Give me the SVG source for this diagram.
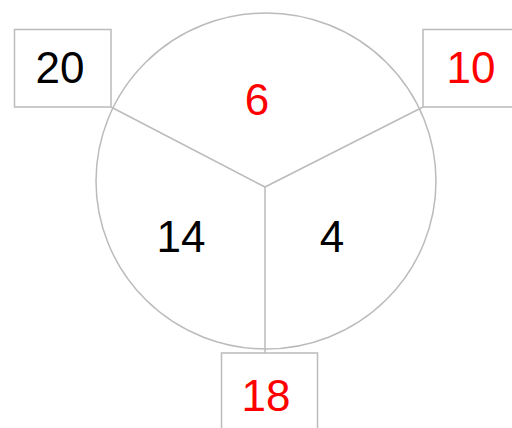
<svg xmlns="http://www.w3.org/2000/svg" width="512" height="428" viewBox="0 0 512 428">
<style>
.ln{fill:none;stroke:#bbbbbb;stroke-width:1.5}
.bx{fill:#ffffff;stroke:#bbbbbb;stroke-width:1.5}
.t{font-family:"Liberation Sans",Arial,sans-serif;font-size:44px;text-anchor:middle}
.r{fill:#ff0000}
.k{fill:#000000}
</style>
<rect width="512" height="428" fill="#ffffff"/>
<g id="circle">
<ellipse class="ln" cx="266" cy="181" rx="170" ry="168"/>
</g>
<g id="connectors">
<line class="ln" x1="265" y1="187" x2="111" y2="107"/>
<line class="ln" x1="265" y1="187" x2="423" y2="107"/>
<line class="ln" x1="265" y1="187" x2="265" y2="353"/>
</g>
<g id="sector-top"><text class="t r" x="257" y="115">6</text></g>
<g id="sector-left"><text class="t k" x="181" y="252">14</text></g>
<g id="sector-right"><text class="t k" x="332" y="252">4</text></g>
<g id="box-20">
<rect class="bx" x="14.5" y="29.5" width="96.5" height="77.5"/>
<text class="t k" x="60" y="83">20</text>
</g>
<g id="box-10">
<rect class="bx" x="423" y="29.5" width="96.5" height="77.5"/>
<text class="t r" x="471" y="83">10</text>
</g>
<g id="box-18">
<rect class="bx" x="221.5" y="353" width="96" height="90"/>
<text class="t r" x="266" y="411">18</text>
</g>
</svg>
